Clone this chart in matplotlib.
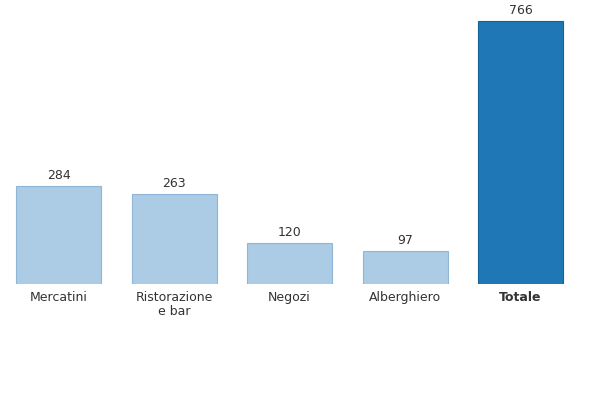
import matplotlib
matplotlib.use("Agg")
import matplotlib.pyplot as plt

categories = ["Mercatini", "Ristorazione\ne bar", "Negozi", "Alberghiero", "Totale"]
values = [284, 263, 120, 97, 766]

fig = plt.figure(figsize=(6, 4), dpi=100)
ax = fig.add_axes([0, 0.29, 1, 0.71])
x = list(range(len(values)))
colors = ["#abcce4"] * 4 + ["#1f78b5"]
edges = ["#8fb6d6"] * 4 + ["#15629a"]
bars = ax.bar(x, values, width=0.736, color=colors, edgecolor=edges, linewidth=0.8)
for xi, v in zip(x, values):
    ax.annotate(str(v), (xi, v), xytext=(0, 3), textcoords="offset points",
                ha="center", va="bottom", fontsize=9, color="#333333")
ax.set_xlim(-0.5065, 4.688)
ax.set_ylim(0, 827)
ax.set_xticks(x)
ax.set_xticklabels(categories, fontsize=9, color="#333333", linespacing=1.1)
ax.get_xticklabels()[-1].set_fontweight("bold")
ax.tick_params(axis="x", length=0, pad=5)
ax.set_yticks([])
for s in ax.spines.values():
    s.set_visible(False)
fig.savefig("out.png", dpi=100)
